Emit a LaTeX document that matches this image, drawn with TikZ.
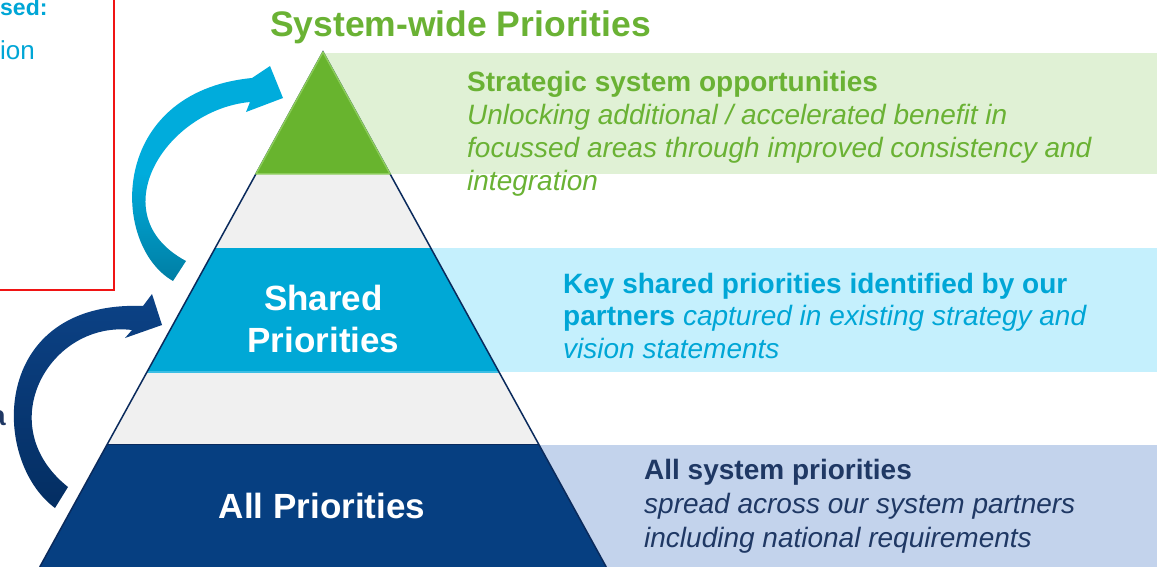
\documentclass[tikz,border=0pt]{standalone}
\usepackage{fontspec}
\setmainfont{Liberation Sans}
\definecolor{pgreen}{RGB}{104,180,46}
\definecolor{pgreenL}{RGB}{140,204,90}
\definecolor{tgreen}{RGB}{106,178,52}
\definecolor{bgreen}{RGB}{224,241,213}
\definecolor{pcyan}{RGB}{0,168,214}
\definecolor{pcyanL}{RGB}{60,190,228}
\definecolor{tcyan}{RGB}{0,166,214}
\definecolor{bcyan}{RGB}{197,240,253}
\definecolor{pnavy}{RGB}{6,63,129}
\definecolor{tnavy}{RGB}{31,56,100}
\definecolor{bnavy}{RGB}{195,211,236}
\definecolor{pgray}{RGB}{240,240,240}
\definecolor{outl}{RGB}{10,42,92}
\definecolor{arcA}{RGB}{0,172,220}
\definecolor{arcB}{RGB}{0,126,164}
\definecolor{arnA}{RGB}{12,66,134}
\definecolor{arnB}{RGB}{4,46,98}
\definecolor{boxred}{RGB}{240,20,20}
\begin{document}
\begin{tikzpicture}[x=1pt,y=-1pt,
  line/.style={anchor=base west, inner sep=0pt, font=\fontsize{28}{33}\selectfont},
  pyrlabel/.style={anchor=base, inner sep=0pt, text=white, font=\fontsize{35}{42}\selectfont\bfseries},
  band/.style={draw=none}]
\useasboundingbox (0,0) rectangle (1157,567);
\clip (0,0) rectangle (1157,567);
\fill[white] (0,0) rectangle (1157,567);

% red box (partially visible)
\draw[boxred, line width=2pt] (-20,-20) rectangle (114,290);
\node[line, anchor=base west, text=tcyan, font=\fontsize{23}{28}\selectfont\bfseries] (sed) at (0,16) {sed:};
\node[line, anchor=base west, text=tcyan, font=\fontsize{26}{31}\selectfont] (ion) at (0,60) {ion};
\node[line, anchor=base east, text=tnavy, font=\fontsize{28}{33}\selectfont\bfseries] (aa) at (6,425) {a};

% right-hand bands
\fill[bgreen] (323,53) rectangle (1157,174);
\fill[bcyan] (323,248) rectangle (1157,372);
\fill[bnavy] (323,445) rectangle (1157,567);

% pyramid
\coordinate (apex) at (323,52);
\coordinate (g1) at (255.9,174);  \coordinate (g2) at (390.1,174);
\coordinate (s1) at (215.2,248);  \coordinate (s2) at (430.8,248);
\coordinate (s3) at (147,372);    \coordinate (s4) at (499,372);
\coordinate (n1) at (107.4,444.5);  \coordinate (n2) at (538.6,444.5);
\coordinate (b1) at (39.75,567);  \coordinate (b2) at (606.25,567);
\fill[pgray] (apex) -- (b2) -- (b1) -- cycle;
\fill[pnavy] (n1) -- (n2) -- (b2) -- (b1) -- cycle;
\draw[outl, line width=1.2pt] (n1) -- (n2);
\fill[pcyan] (s1) -- (s2) -- (s4) -- (s3) -- cycle;
\draw[pcyanL, line width=1.2pt] (s3) -- (s4);
\draw[outl, line width=1.5pt] (b1) -- (apex) -- (b2);
\filldraw[fill=pgreen, draw=pgreenL, line width=1.5pt, line join=round] (apex) -- (g2) -- (g1) -- cycle;

% pyramid labels
\node[pyrlabel] (shared1) at (323.5,310) {Shared};
\node[pyrlabel] (shared2) at (323.5,352) {Priorities};
\node[pyrlabel] (allp) at (322,518) {All Priorities};

% title
\node[anchor=base, inner sep=0pt, text=tgreen, font=\fontsize{35.5}{42}\selectfont\bfseries] (title) at (460.5,37) {System-wide Priorities};

% green block
\node[line, text=tgreen, font=\fontsize{28}{33}\selectfont\bfseries] (g-l1) at (467,92) {Strategic system opportunities};
\node[line, text=tgreen, font=\fontsize{28}{33}\selectfont\itshape] (g-l2) at (467,124.5) {Unlocking additional / accelerated benefit in};
\node[line, text=tgreen, font=\fontsize{28}{33}\selectfont\itshape] (g-l3) at (467,157.5) {focussed areas through improved consistency and};
\node[line, text=tgreen, font=\fontsize{28}{33}\selectfont\itshape] (g-l4) at (467,190.5) {integration};

% cyan block
\node[line, text=tcyan, font=\fontsize{28}{33}\selectfont\bfseries] (c-l1) at (563,293) {Key shared priorities identified by our};
\node[line, text=tcyan] (c-l2) at (563,325.5) {\textbf{partners} \textit{captured in existing strategy and}};
\node[line, text=tcyan, font=\fontsize{28}{33}\selectfont\itshape] (c-l3) at (563,358) {vision statements};

% navy block
\node[line, text=tnavy, font=\fontsize{28}{33}\selectfont\bfseries] (n-l1) at (644,479) {All system priorities};
\node[line, text=tnavy, font=\fontsize{28}{33}\selectfont\itshape] (n-l2) at (644,513) {spread across our system partners};
\node[line, text=tnavy, font=\fontsize{28}{33}\selectfont\itshape] (n-l3) at (644,547) {including national requirements};

% curved arrows
\shade[top color=arcA, bottom color=arcB, middle color=arcA]
  (173,281) .. controls (110,245) and (108,92) .. (252,78)
  -- (270,66) -- (283,98) -- (246,112) -- (250,102)
  .. controls (165,110) and (100,215) .. (186,261) -- cycle;
\shade[top color=arnA, bottom color=arnB]
  (55,508) .. controls (-10,460) and (-10,300) .. (143,306)
  -- (152,294) -- (162,325) -- (125,338) -- (132,330)
  .. controls (50,320) and (-10,425) .. (68,487) -- cycle;
\end{tikzpicture}
\end{document}
